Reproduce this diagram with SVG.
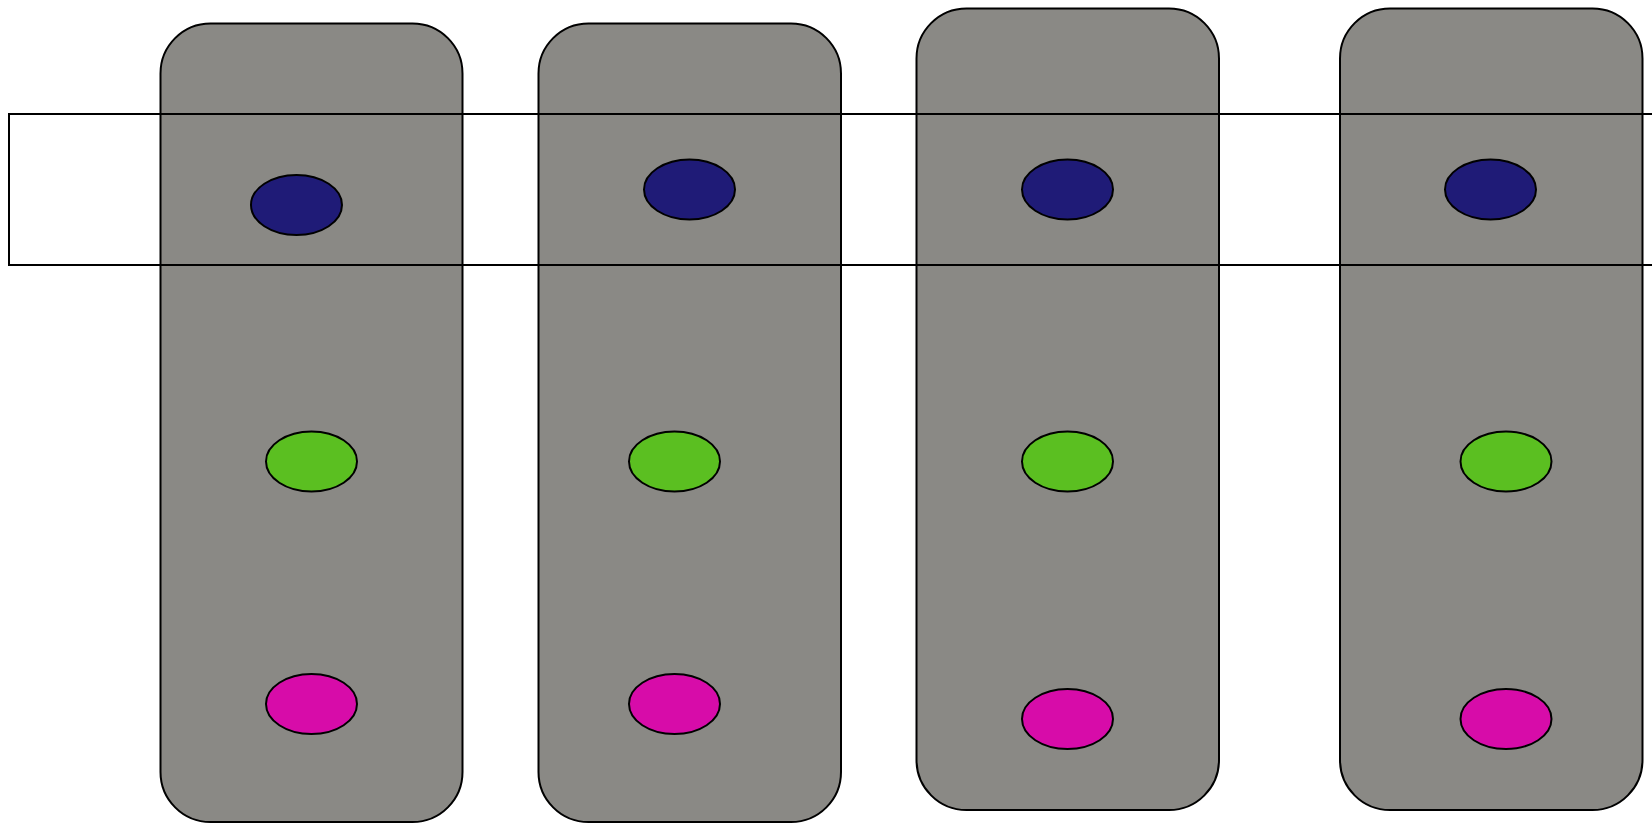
<svg xmlns="http://www.w3.org/2000/svg" width="1652" height="823" viewBox="0 0 1652 823">
<style>
.col{fill:#8a8985;stroke:#000;stroke-width:2}
.band{fill:none;stroke:#000;stroke-width:2}
.e{stroke:#000;stroke-width:2}
.blue{fill:#1f1b77}
.green{fill:#5bbf21}
.pink{fill:#d70ca9}
</style>
<rect width="1652" height="823" fill="#fff"/>
<g id="col1"><rect class="col" x="160.5" y="23.5" width="302" height="798.5" rx="50" ry="50"/></g>
<g id="col2"><rect class="col" x="538.5" y="23.5" width="302.5" height="798.5" rx="50" ry="50"/></g>
<g id="col3"><rect class="col" x="916.5" y="8.5" width="302.5" height="801.5" rx="50" ry="50"/></g>
<g id="col4"><rect class="col" x="1340" y="8.5" width="302.5" height="801.5" rx="50" ry="50"/></g>
<g id="band"><rect class="band" x="9" y="114" width="1700" height="151"/></g>
<g id="blue1"><ellipse class="e blue" cx="296.5" cy="205" rx="45.5" ry="30"/></g>
<g id="blue2"><ellipse class="e blue" cx="689.5" cy="189.5" rx="45.5" ry="30"/></g>
<g id="blue3"><ellipse class="e blue" cx="1067.5" cy="189.5" rx="45.5" ry="30"/></g>
<g id="blue4"><ellipse class="e blue" cx="1490.5" cy="189.5" rx="45.5" ry="30"/></g>
<g id="green1"><ellipse class="e green" cx="311.5" cy="461.5" rx="45.5" ry="30"/></g>
<g id="green2"><ellipse class="e green" cx="674.5" cy="461.5" rx="45.5" ry="30"/></g>
<g id="green3"><ellipse class="e green" cx="1067.5" cy="461.5" rx="45.5" ry="30"/></g>
<g id="green4"><ellipse class="e green" cx="1506" cy="461.5" rx="45.5" ry="30"/></g>
<g id="pink1"><ellipse class="e pink" cx="311.5" cy="704" rx="45.5" ry="30"/></g>
<g id="pink2"><ellipse class="e pink" cx="674.5" cy="704" rx="45.5" ry="30"/></g>
<g id="pink3"><ellipse class="e pink" cx="1067.5" cy="719" rx="45.5" ry="30"/></g>
<g id="pink4"><ellipse class="e pink" cx="1506" cy="719" rx="45.5" ry="30"/></g>
<g id="connectors"></g>
</svg>
